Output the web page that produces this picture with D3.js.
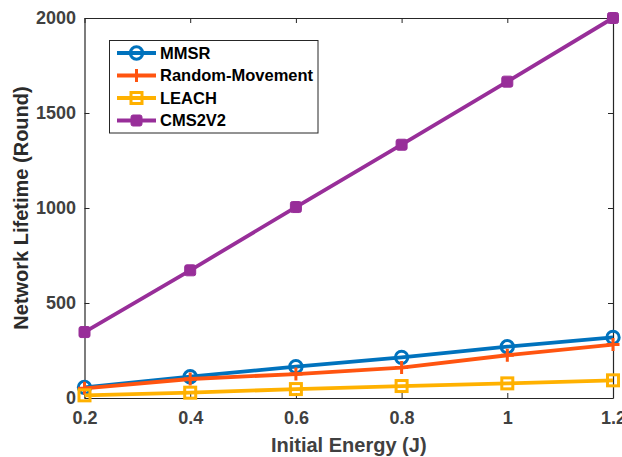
<!DOCTYPE html>
<html>
<head>
<meta charset="utf-8">
<script src="https://cdn.jsdelivr.net/npm/d3@7"></script>
<style>
  html, body { margin: 0; padding: 0; background: #fff; }
  svg { display: block; font-family: "Liberation Sans", Arial, sans-serif; }
</style>
</head>
<body>
<svg id="chart" width="622" height="457"></svg>
<script>
// ---- data ----
const energy = [0.2, 0.4, 0.6, 0.8, 1.0, 1.2];
const mmsr = [56, 112, 165, 214, 270, 319];
const randomMovement = [51, 100, 126, 160, 225, 281];
const leach = [14, 28, 47, 63, 77, 93];
const cms2v2 = [347, 672, 1005, 1333, 1665, 2000];
const seriesNames = ["MMSR", "Random-Movement", "LEACH", "CMS2V2"];
const xTicks = [0.2, 0.4, 0.6, 0.8, 1.0, 1.2];
const yTicks = [0, 500, 1000, 1500, 2000];
const xLabel = "Initial Energy (J)";
const yLabel = "Network Lifetime (Round)";

// ---- styles ----
const colors = ["#0072BD", "#FF5410", "#FFB100", "#982E99"];
const markers = ["circle", "plus", "square", "filledSquare"];

const svg = d3.select("#chart");
const pLeft = 84.5, pRight = 613, pTop = 18, pBottom = 398;

const x = d3.scaleLinear().domain([0.2, 1.2]).range([pLeft, pRight]);
const y = d3.scaleLinear().domain([0, 2000]).range([pBottom, pTop]);

const tickColor = "#404040";

// axes
const xAxis = svg.append("g").attr("transform", `translate(0,${pBottom})`)
  .call(d3.axisBottom(x).tickValues(xTicks).tickSizeInner(-5).tickSizeOuter(0).tickPadding(13)
    .tickFormat(d => d3.format("~g")(d)));
const yAxis = svg.append("g").attr("transform", `translate(${pLeft},0)`)
  .call(d3.axisLeft(y).tickValues(yTicks).tickSizeInner(-5).tickSizeOuter(0).tickPadding(8.5)
    .tickFormat(d3.format("d")));
const xTop = svg.append("g").attr("transform", `translate(0,${pTop})`)
  .call(d3.axisTop(x).tickValues(xTicks).tickSizeInner(-5).tickSizeOuter(0).tickFormat(""));
const yRight = svg.append("g").attr("transform", `translate(${pRight},0)`)
  .call(d3.axisRight(y).tickValues(yTicks).tickSizeInner(-5).tickSizeOuter(0).tickFormat(""));

[xAxis, yAxis, xTop, yRight].forEach(g => {
  g.select(".domain").attr("stroke", "#262626").attr("stroke-width", 1.2);
  g.selectAll(".tick line").attr("stroke", "#262626").attr("stroke-width", 1);
  g.selectAll(".tick text").attr("fill", tickColor).attr("font-size", "18px")
    .attr("font-weight", "bold").attr("font-family", "'Liberation Sans', Arial, sans-serif");
});

// axis titles
svg.append("text").attr("x", (pLeft + pRight) / 2).attr("y", 452)
  .attr("text-anchor", "middle").attr("font-size", "20px").attr("font-weight", "bold")
  .attr("fill", tickColor).text(xLabel);
svg.append("text").attr("transform", `translate(28,${(pTop + pBottom) / 2}) rotate(-90)`)
  .attr("text-anchor", "middle").attr("font-size", "20px").attr("font-weight", "bold")
  .attr("fill", "#2b2b2b").text(yLabel);

// marker drawing helper
function drawMarker(g, type, cx, cy, color) {
  if (type === "circle") {
    g.append("circle").attr("cx", cx).attr("cy", cy).attr("r", 6.2)
      .attr("fill", "none").attr("stroke", color).attr("stroke-width", 3);
  } else if (type === "plus") {
    g.append("path").attr("d", `M${cx - 6.5},${cy}H${cx + 6.5}M${cx},${cy - 6.5}V${cy + 6.5}`)
      .attr("stroke", color).attr("stroke-width", 3).attr("fill", "none");
  } else if (type === "square") {
    g.append("rect").attr("x", cx - 5.5).attr("y", cy - 5.5).attr("width", 11).attr("height", 11)
      .attr("fill", "none").attr("stroke", color).attr("stroke-width", 3);
  } else if (type === "filledSquare") {
    g.append("rect").attr("x", cx - 5.5).attr("y", cy - 5.5).attr("width", 11).attr("height", 11)
      .attr("rx", 2).attr("fill", color).attr("stroke", color).attr("stroke-width", 1);
  }
}

// series
const allSeries = [mmsr, randomMovement, leach, cms2v2];
const line = d3.line().x(d => x(d[0])).y(d => y(d[1]));
allSeries.forEach((vals, i) => {
  const pts = energy.map((e, j) => [e, vals[j]]);
  const g = svg.append("g");
  g.append("path").datum(pts).attr("d", line).attr("fill", "none")
    .attr("stroke", colors[i]).attr("stroke-width", 3.8).attr("stroke-linejoin", "round");
  pts.forEach(p => drawMarker(g, markers[i], x(p[0]), y(p[1]), colors[i]));
});

// legend
const leg = svg.append("g");
leg.append("rect").attr("x", 109.5).attr("y", 40.5).attr("width", 208.5).attr("height", 92.5)
  .attr("fill", "#fff").attr("stroke", "#262626").attr("stroke-width", 1);
seriesNames.forEach((name, i) => {
  const ly = 53 + i * 22.5;
  leg.append("line").attr("x1", 117).attr("x2", 156).attr("y1", ly).attr("y2", ly)
    .attr("stroke", colors[i]).attr("stroke-width", 3.8);
  drawMarker(leg, markers[i], 136.5, ly, colors[i]);
  leg.append("text").attr("x", 160).attr("y", ly).attr("dy", "0.36em")
    .attr("font-size", "16.5px").attr("font-weight", "bold").attr("fill", "#000").text(name);
});
</script>
</body>
</html>
